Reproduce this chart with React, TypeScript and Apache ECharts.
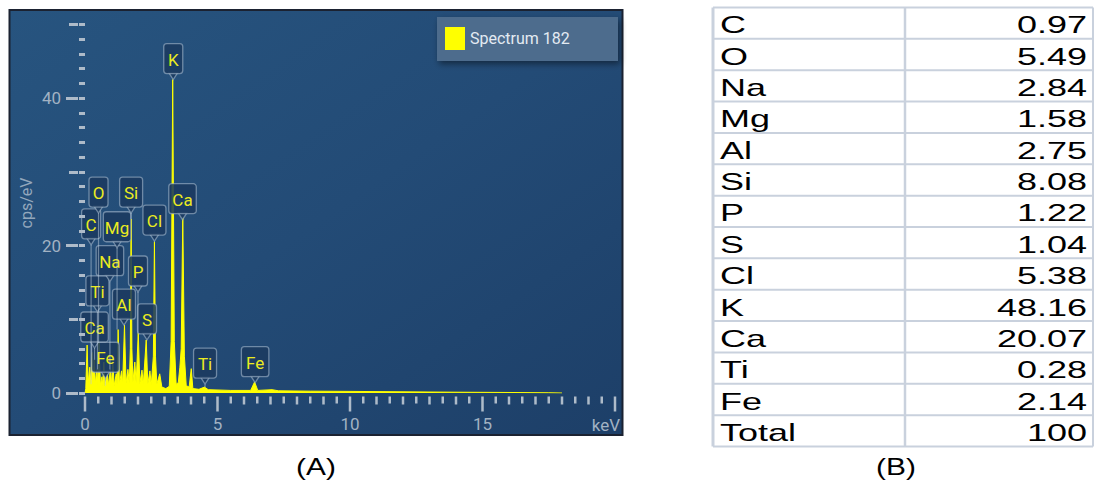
import React, { useEffect, useRef } from 'react';
import * as echarts from 'echarts';

// ---------- Spectrum (A) ----------
const SPECTRUM_KEV = [
  0.0, 0.03, 0.08, 0.12, 0.18, 0.22, 0.28, 0.31, 0.35, 0.39, 0.45, 0.48, 0.53, 0.58, 0.64, 0.67,
  0.71, 0.75, 0.84, 0.89, 0.96, 1.0, 1.05, 1.1, 1.18, 1.21, 1.25, 1.3, 1.38, 1.42, 1.49, 1.55,
  1.62, 1.67, 1.71, 1.74, 1.77, 1.81, 1.88, 1.93, 2.01, 2.07, 2.15, 2.2, 2.31, 2.37, 2.45, 2.5,
  2.58, 2.62, 2.66, 2.71, 2.82, 2.9, 3.05, 3.18, 3.25, 3.31, 3.37, 3.44, 3.52, 3.58, 3.63, 3.69,
  3.75, 3.82, 3.93, 4.01, 4.07, 4.3, 4.51, 4.65, 5.5, 6.25, 6.4, 6.52, 7.06, 7.3, 8.5, 10.0,
  12.0, 14.0, 16.0, 17.5, 18.0,
];
const SPECTRUM_CPS = [
  0, 0.6, 6.5, 1.3, 3.5, 1.2, 5.5, 1.6, 4.5, 1.3, 3.2, 1.1, 6.8, 1.1, 2.2, 1.0,
  4.2, 1.0, 2.6, 1.1, 3.2, 1.2, 4.2, 1.0, 2.6, 1.2, 8.6, 1.2, 3.0, 1.2, 9.2, 1.3,
  3.2, 1.3, 6.0, 23.6, 6.0, 1.5, 4.2, 1.3, 8.2, 1.3, 3.1, 1.2, 7.2, 1.2, 3.0, 1.1,
  5.0, 20.5, 5.0, 1.2, 2.6, 0.8, 0.6, 0.9, 7.0, 42.5, 7.0, 1.2, 1.4, 3.5, 6.0, 23.8,
  5.0, 1.0, 0.8, 3.3, 0.6, 0.5, 0.8, 0.45, 0.35, 0.35, 1.5, 0.35, 0.45, 0.3, 0.25, 0.22,
  0.16, 0.11, 0.07, 0.03, 0,
];

// Peak labels: text, energy (keV), pointer tip (cps/eV)
const LABEL_TEXT = ['Fe', 'Ca', 'S', 'Al', 'Ti', 'P', 'Na', 'Mg', 'C', 'Cl', 'O', 'Si', 'Ca', 'K', 'Ti', 'Fe'];
const LABEL_KEV = [0.77, 0.36, 2.34, 1.47, 0.47, 2.0, 0.94, 1.21, 0.23, 2.62, 0.51, 1.74, 3.68, 3.33, 4.53, 6.42];
const LABEL_TIP = [2.0, 6.1, 7.2, 9.2, 11.0, 13.7, 15.1, 19.7, 20.1, 20.6, 24.4, 24.4, 23.5, 42.5, 1.2, 1.4];

const X_MAX = 20;
const X_MINOR_STEP = 0.5;
const X_LABEL_STEP = 5;
const Y_MAJOR_TICKS = [0, 20, 40];
const Y_MID_TICKS = [10, 30, 50];
const Y_MAX = 50;
const SERIES_NAME = 'Spectrum 182';

// ---------- Table (B) ----------
const TABLE_ELEMENTS = ['C', 'O', 'Na', 'Mg', 'Al', 'Si', 'P', 'S', 'Cl', 'K', 'Ca', 'Ti', 'Fe', 'Total'];
const TABLE_WT = ['0.97', '5.49', '2.84', '1.58', '2.75', '8.08', '1.22', '1.04', '5.38', '48.16', '20.07', '0.28', '2.14', '100'];

const AXIS_COLOR = '#aebbc9';
const LABEL_COLOR = '#a2b2c3';
const FONT = 'Roboto, "Noto Sans", sans-serif';

function peakTopNear(kev: number): number {
  let m = 0;
  for (let i = 0; i < SPECTRUM_KEV.length; i++) {
    if (Math.abs(SPECTRUM_KEV[i] - kev) <= 0.05) m = Math.max(m, SPECTRUM_CPS[i]);
  }
  return m;
}

function labelWidth(t: string): number {
  let w = 9;
  for (const ch of t) {
    if (ch === 'i' || ch === 'l') w += 4;
    else if (ch === ch.toUpperCase()) w += 10;
    else w += 8.5;
  }
  return w;
}

function range(step: number, max: number): number[] {
  const out: number[] = [];
  for (let v = 0; v <= max + 1e-9; v += step) out.push(Math.round(v * 100) / 100);
  return out;
}

export default function App() {
  const ref = useRef<HTMLDivElement>(null);

  useEffect(() => {
    const chart = echarts.init(ref.current!, null, { renderer: 'svg' });

    const yBase: any = {
      type: 'value', min: 0, max: Y_MAX, position: 'left', offset: 7, z: 6,
      axisLine: { show: false }, splitLine: { show: false }, axisLabel: { show: false },
    };

    const boxFill = 'rgba(27,58,96,0.88)';
    const boxStroke = 'rgba(165,185,205,0.6)';

    const graphics: any[] = [];
    graphics.push({
      type: 'rect', z: -10,
      shape: { x: 9.5, y: 10, width: 613, height: 425 },
      style: {
        fill: new echarts.graphic.LinearGradient(0, 0, 1, 1, [
          { offset: 0, color: '#27547f' },
          { offset: 0.5, color: '#234b76' },
          { offset: 1, color: '#1d3f68' },
        ]),
        stroke: '#1b2231', lineWidth: 2,
      },
    });
    graphics.push({
      type: 'rect', z: 3,
      shape: { x: 437, y: 17, width: 181, height: 44 },
      style: {
        fill: '#4d6c8d', shadowBlur: 6, shadowColor: 'rgba(0,0,0,0.45)', shadowOffsetX: 2, shadowOffsetY: 3,
      },
    });
    graphics.push({
      type: 'text', z: 3, x: 26, y: 203, rotation: Math.PI / 2,
      style: {
        text: 'cps/eV', x: 0, y: 0, align: 'center', verticalAlign: 'middle',
        textAlign: 'center', textVerticalAlign: 'middle', fill: '#93a7bc', fontSize: 16, fontFamily: FONT,
      },
    });
    graphics.push({
      type: 'text', z: 3, x: 620, y: 425,
      style: {
        text: 'keV', x: 0, y: 0, align: 'right', verticalAlign: 'middle',
        textAlign: 'right', textVerticalAlign: 'middle', fill: LABEL_COLOR, fontSize: 17, fontFamily: FONT,
      },
    });
    const caption = (t: string, x: number, y: number) => ({
      type: 'text', z: 3, x, y, scaleX: 1.3,
      style: {
        text: t, x: 0, y: 0, align: 'center', verticalAlign: 'middle',
        textAlign: 'center', textVerticalAlign: 'middle', fill: '#000', fontSize: 23,
        fontFamily: '"Liberation Sans", Arial, sans-serif',
      },
    });
    graphics.push(caption('(A)', 316, 467));
    graphics.push(caption('(B)', 896, 467));

    // Table B
    const tLeft = 713, tRight = 1093, tDiv = 905, tTop = 7.5, tBottom = 446.5;
    const rowH = (tBottom - tTop) / TABLE_ELEMENTS.length;
    const gridColor = '#c9d1dd';
    for (let i = 0; i <= TABLE_ELEMENTS.length; i++) {
      const y = tTop + i * rowH;
      graphics.push({ type: 'line', z: 3, shape: { x1: tLeft, y1: y, x2: tRight, y2: y }, style: { stroke: gridColor, lineWidth: 2 } });
    }
    graphics.push({ type: 'line', z: 3, shape: { x1: tLeft, y1: tTop, x2: tLeft, y2: tBottom }, style: { stroke: gridColor, lineWidth: 3 } });
    graphics.push({ type: 'line', z: 3, shape: { x1: tDiv, y1: tTop, x2: tDiv, y2: tBottom }, style: { stroke: gridColor, lineWidth: 2.5 } });
    graphics.push({ type: 'line', z: 3, shape: { x1: tRight, y1: tTop, x2: tRight, y2: tBottom }, style: { stroke: gridColor, lineWidth: 2 } });
    TABLE_ELEMENTS.forEach((el, i) => {
      const cy = tTop + (i + 0.5) * rowH + 1.5;
      graphics.push({
        type: 'text', z: 4, x: 720, y: cy, scaleX: 1.5,
        style: {
          text: el, x: 0, y: 0, align: 'left', verticalAlign: 'middle', textAlign: 'left', textVerticalAlign: 'middle',
          fill: '#000', fontSize: 24, fontFamily: '"Liberation Sans", Arial, sans-serif',
        },
      });
      graphics.push({
        type: 'text', z: 4, x: 1087, y: cy, scaleX: 1.5,
        style: {
          text: TABLE_WT[i], x: 0, y: 0, align: 'right', verticalAlign: 'middle', textAlign: 'right', textVerticalAlign: 'middle',
          fill: '#000', fontSize: 24, fontFamily: '"Liberation Sans", Arial, sans-serif',
        },
      });
    });

    const option: any = {
      animation: false,
      grid: { left: 85, right: 1094 - 615, top: 24.3, bottom: 484 - 393, containLabel: false },
      legend: {
        data: [SERIES_NAME], left: 445, top: 27, padding: 0, icon: 'rect', itemWidth: 20, itemHeight: 23,
        selectedMode: false, z: 10,
        textStyle: { color: '#e3eaf2', fontSize: 16, fontFamily: FONT },
      },
      xAxis: {
        type: 'value', min: 0, max: X_MAX, interval: X_LABEL_STEP, position: 'bottom', offset: 3, z: 6,
        axisLine: { show: false }, splitLine: { show: false }, axisTick: { show: false },
        axisLabel: {
          show: true, interval: 0, margin: 19, color: LABEL_COLOR, fontSize: 17, fontFamily: FONT,
          formatter: (v: number) => (v >= X_MAX ? '' : String(v)),
        },
      },
      yAxis: [
        { ...yBase, interval: 2, axisTick: { show: true, interval: 0, length: 6, customValues: range(2, Y_MAX), lineStyle: { color: AXIS_COLOR, width: 3 } } },
        { ...yBase, interval: 10, axisTick: { show: true, interval: 0, length: 9, customValues: Y_MID_TICKS, lineStyle: { color: AXIS_COLOR, width: 3 } } },
        {
          ...yBase, interval: 20,
          axisTick: { show: true, interval: 0, length: 12, customValues: Y_MAJOR_TICKS, lineStyle: { color: AXIS_COLOR, width: 3 } },
          axisLabel: { show: true, margin: 17, customValues: Y_MAJOR_TICKS, color: LABEL_COLOR, fontSize: 17, fontFamily: FONT },
        },
      ],
      graphic: { elements: graphics },
      series: [
        {
          name: SERIES_NAME, type: 'line', xAxisIndex: 0, yAxisIndex: 0, z: 2,
          data: SPECTRUM_KEV.map((k, i) => [k, SPECTRUM_CPS[i]]),
          symbol: 'none', showSymbol: false, smooth: false,
          itemStyle: { color: '#ffff00' },
          lineStyle: { color: '#ffff00', width: 1 },
          areaStyle: { color: '#ffff00', opacity: 1 },
        },
        {
          // x-axis tick marks (0.5 keV minor, 1 keV medium, 5 keV major)
          name: 'x ticks', type: 'custom', xAxisIndex: 0, yAxisIndex: 0, z: 6, silent: true, clip: false,
          data: range(X_MINOR_STEP, X_MAX).map((v) => [v, 0]),
          encode: { x: 0, y: 1 },
          renderItem: (params: any, api: any) => {
            const v = api.value(0);
            const [x, y] = api.coord([v, 0]);
            const len = Math.abs(v % X_LABEL_STEP) < 1e-6 ? 15 : Math.abs(v % 1) < 1e-6 ? 8 : 7;
            return {
              type: 'line',
              shape: { x1: x, y1: y + 3.5, x2: x, y2: y + 3.5 + len },
              style: { stroke: AXIS_COLOR, lineWidth: 2.5 },
            };
          },
        },
        {
          name: 'peak labels', type: 'custom', xAxisIndex: 0, yAxisIndex: 0, z: 5, silent: true, clip: false,
          data: LABEL_KEV.map((k, i) => [k, LABEL_TIP[i]]),
          encode: { x: 0, y: 1 },
          renderItem: (params: any, api: any) => {
            const i = params.dataIndex;
            const name = LABEL_TEXT[i];
            const kev = api.value(0);
            const tipV = api.value(1);
            const [tx, ty] = api.coord([kev, tipV]);
            const w = labelWidth(name);
            const h = 30;
            const ph = 6;
            const bx = tx - w / 2;
            const by = ty - ph - h;
            const children: any[] = [];
            const peak = peakTopNear(kev);
            if (peak < tipV) {
              const py = api.coord([kev, peak])[1];
              children.push({
                type: 'line', shape: { x1: tx, y1: ty, x2: tx, y2: py },
                style: { stroke: 'rgba(190,205,222,0.5)', lineWidth: 1.2 },
              });
            }
            children.push({
              type: 'polygon',
              shape: { points: [[tx - 4.5, by + h - 1], [tx, ty], [tx + 4.5, by + h - 1]] },
              style: { fill: boxFill, stroke: boxStroke, lineWidth: 1.3 },
            });
            children.push({
              type: 'rect', shape: { x: bx, y: by, width: w, height: h, r: 3 },
              style: { fill: boxFill, stroke: boxStroke, lineWidth: 1.3 },
            });
            children.push({
              type: 'text',
              style: {
                text: name, x: tx, y: by + h / 2 + 1, align: 'center', verticalAlign: 'middle',
                textAlign: 'center', textVerticalAlign: 'middle',
                fill: '#ebeb1f', fontSize: 17, fontFamily: FONT,
              },
            });
            return { type: 'group', children };
          },
        },
      ],
    };

    chart.setOption(option);
    return () => chart.dispose();
  }, []);

  return <div ref={ref} style={{ position: 'absolute', left: 0, top: 0, width: 1094, height: 484 }} />;
}
